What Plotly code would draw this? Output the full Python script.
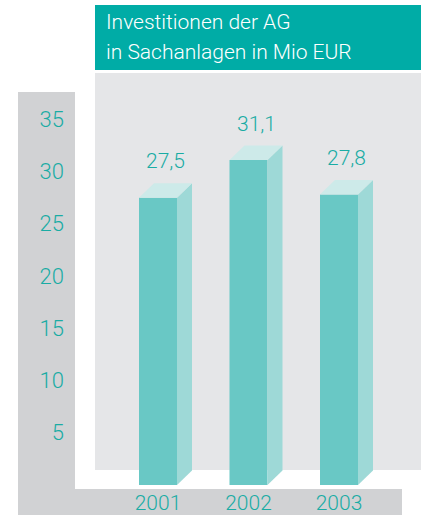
import plotly.graph_objects as go

years = ["2001", "2002", "2003"]
values = [27.5, 31.1, 27.8]
y_ticks = [5, 10, 15, 20, 25, 30, 35]
title_lines = ["Investitionen der AG", "in Sachanlagen in Mio EUR"]

FRONT = "#69c8c5"
SIDE = "#9ed9d7"
TOP = "#cdeae9"
TEAL_TXT = "#1aaca4"
HEADER = "#00aca6"
PANEL = "#e5e6e8"
BAND = "#d1d2d4"
FONT = "Roboto"

W, H = 424, 515
ML, MR, MT, MB = 95, 3, 73, 30
PW, PH = W - ML - MR, H - MT - MB
PX_PER_UNIT = 10.45
YMAX = PH / PX_PER_UNIT
XSTEP = 90.5
X0PX = 158 - ML
xr = [-X0PX / XSTEP, (PW - X0PX) / XSTEP]

bw = 38 / XSTEP
dx = 15 / XSTEP
dy = 14.5 / PX_PER_UNIT

xs = list(range(len(years)))

fig = go.Figure()
fig.add_trace(go.Bar(x=xs, y=values, width=bw, marker=dict(color=FRONT, line=dict(width=0)),
                     hoverinfo="skip", showlegend=False))
for i, v in zip(xs, values):
    r = i + bw / 2
    l = i - bw / 2
    fig.add_trace(go.Scatter(x=[r, r + dx, r + dx, r, r], y=[0, dy, v + dy, v, 0],
                             fill="toself", fillcolor=SIDE, mode="lines", line=dict(width=0),
                             hoverinfo="skip", showlegend=False))
    fig.add_trace(go.Scatter(x=[l, l + dx, r + dx, r, l], y=[v, v + dy, v + dy, v, v],
                             fill="toself", fillcolor=TOP, mode="lines", line=dict(width=0),
                             hoverinfo="skip", showlegend=False))
    fig.add_annotation(x=i + dx / 2, y=v + dy, text=f"{v:.1f}".replace(".", ","),
                       showarrow=False, yanchor="bottom", yshift=8,
                       font=dict(family=FONT, size=21, color=TEAL_TXT, weight=300))

def px_x(p):
    return (p - ML) / PW

def px_y(p):
    return (H - MB - p) / PH

shapes = [
    dict(x0=px_x(18), x1=px_x(75), y0=px_y(92), y1=px_y(516), color=BAND),
    dict(x0=px_x(75), x1=px_x(402), y0=px_y(489), y1=px_y(516), color=BAND),
    dict(x0=px_x(95), x1=px_x(421), y0=px_y(470), y1=px_y(73), color=PANEL),
    dict(x0=px_x(95), x1=px_x(421), y0=px_y(70), y1=px_y(5), color=HEADER),
]
for s in shapes:
    fig.add_shape(type="rect", xref="paper", yref="paper", x0=s["x0"], x1=s["x1"],
                  y0=s["y0"], y1=s["y1"], fillcolor=s["color"], line=dict(width=0),
                  layer="below")

for line, py in zip(title_lines, [22, 52]):
    fig.add_annotation(xref="paper", yref="paper", x=px_x(104), y=px_y(py), text=line,
                       showarrow=False, xanchor="left", yanchor="middle",
                       font=dict(family=FONT, size=21, color="white", weight=300))

fig.update_layout(
    width=W, height=H,
    margin=dict(l=ML, r=MR, t=MT, b=MB, pad=0, autoexpand=False),
    paper_bgcolor="white", plot_bgcolor="rgba(0,0,0,0)",
    showlegend=False,
    xaxis=dict(range=xr, tickvals=xs, ticktext=years, showgrid=False, zeroline=False,
               showline=False, ticks="", ticklabelstandoff=3, automargin=False,
               tickfont=dict(family=FONT, size=21, color=TEAL_TXT, weight=300), fixedrange=True),
    yaxis=dict(range=[0, YMAX], tickvals=y_ticks, ticktext=[str(t) for t in y_ticks],
               showgrid=False, zeroline=False, showline=False, ticks="", ticklabelstandoff=30,
               automargin=False,
               tickfont=dict(family=FONT, size=22, color=TEAL_TXT, weight=300), fixedrange=True),
)

fig.write_html("out.html", config={"displayModeBar": False},
               post_script="document.body.style.margin='0';document.body.style.overflow='hidden';")
